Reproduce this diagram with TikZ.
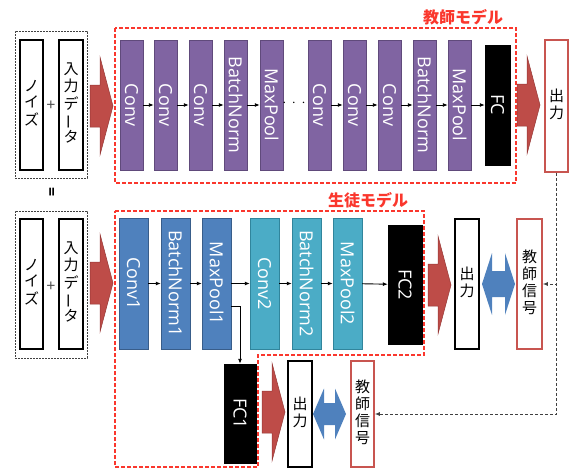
\documentclass[tikz,border=0pt]{standalone}
\usepackage{fontspec}
\setmainfont{Open Sans}
\newfontfamily\jp{Noto Sans CJK JP}
\usetikzlibrary{arrows.meta}

\definecolor{tpurple}{RGB}{128,100,162}
\definecolor{tpurpleD}{RGB}{96,74,123}
\definecolor{sblue}{RGB}{79,129,189}
\definecolor{sblueD}{RGB}{56,93,138}
\definecolor{steal}{RGB}{75,172,198}
\definecolor{stealD}{RGB}{49,133,156}
\definecolor{fatred}{RGB}{190,76,72}
\definecolor{fatredD}{RGB}{150,56,54}
\definecolor{modelred}{RGB}{250,55,45}
\definecolor{outred}{RGB}{200,85,80}

\newcommand{\sidetext}[1]{\rotatebox{-90}{#1}}
\newcommand{\vbar}{\smash{\rotatebox[origin=c]{90}{ー}}}
\newcommand{\vjp}[1]{{\jp\fontsize{15}{16}\selectfont\renewcommand{\arraystretch}{1}\begin{tabular}{@{}c@{}}#1\end{tabular}}}
\newcommand{\fatarrow}[2]{\filldraw[fatfill] (#1,#2) ++(0,-21) -- ++(10,0) -- ++(0,-28) -- ++(13,49) -- ++(-13,49) -- ++(0,-28) -- ++(-10,0) -- cycle;}
\newcommand{\dblarrow}[5]{\fill[dblfill] (#1,#2) -- ++(#5,-#3) -- ++(0,{#3-#4}) -- ++({33-2*#5},0) -- ++(0,{#4-#3}) -- ++(#5,#3) -- ++(-#5,#3) -- ++(0,{#4-#3}) -- ++({2*#5-33},0) -- ++(0,{#3-#4}) -- cycle;}

\begin{document}
\begin{tikzpicture}[x=1pt, y=-1pt,
  tlayer/.style={draw=tpurpleD, fill=tpurple, text=white, inner sep=0pt, minimum width=23pt, minimum height=130pt, font=\fontsize{18}{18}\selectfont},
  slayer/.style={draw=#1D, fill=#1, text=white, inner sep=0pt, minimum width=29pt, minimum height=131pt, font=\fontsize{18}{18}\selectfont},
  fcbox/.style={draw=black, fill=black, text=white, inner sep=0pt, font=\fontsize{18}{18}\selectfont},
  jbox/.style={draw=#1, line width=1.7pt, fill=white, inner sep=0pt},
  inbox/.style={draw=black!75, dash pattern=on 2pt off 1pt, line width=1pt, minimum width=72pt, minimum height=147pt},
  model/.style={draw=modelred, dash pattern=on 4pt off 2pt, line width=1.5pt},
  modellabel/.style={text=modelred, font=\jp\bfseries\fontsize{16}{16}\selectfont},
  link/.style={-{Latex[length=5pt,width=4pt]}, line width=0.9pt},
  dashlink/.style={-{Latex[length=5pt,width=4pt]}, draw=black!75, dash pattern=on 3pt off 2pt, line width=1pt},
  fatfill/.style={fill=fatred, draw=fatredD, line width=0.5pt},
  dblfill/.style={fill=sblue}]
\useasboundingbox (0,0) rectangle (571,469);

% teacher
\node[inbox] (input1) at (51,104.5) {};
\node[jbox=black, minimum width=23pt, minimum height=130pt] (noise1) at (31.5,105) {\vjp{ノ\\イ\\ズ}};
\node[jbox=black, minimum width=24pt, minimum height=130pt] (data1) at (71,105) {\vjp{入\\力\\デ\\\vbar\\タ}};
\node[text=black!70, font=\fontsize{16}{16}\selectfont] (plus1) at (51,106) {+};
\fatarrow{90}{106}
\draw[model] (115,28) rectangle (516,183);
\node[modellabel] (tlabel) at (463,17) {教師モデル};

\node[tlayer] (tc1) at (131.5,105) {\sidetext{Conv}};
\node[tlayer] (tc2) at (165.5,105) {\sidetext{Conv}};
\node[tlayer] (tc3) at (200.5,105) {\sidetext{Conv}};
\node[tlayer] (tbn1) at (235.5,105) {\sidetext{BatchNorm}};
\node[tlayer] (tmp1) at (271.5,105) {\sidetext{MaxPool}};
\node[font=\fontsize{14}{14}\selectfont] (dots) at (294,103) {$\cdot\,\cdot\,\cdot$};
\node[tlayer] (tc4) at (319.5,105) {\sidetext{Conv}};
\node[tlayer] (tc5) at (354.5,105) {\sidetext{Conv}};
\node[tlayer] (tc6) at (389.5,105) {\sidetext{Conv}};
\node[tlayer] (tbn2) at (424.5,105) {\sidetext{BatchNorm}};
\node[tlayer] (tmp2) at (459.5,105) {\sidetext{MaxPool}};
\node[fcbox, minimum width=25pt, minimum height=120pt] (tfc) at (497.5,105) {\sidetext{FC}};

\draw[link] (tc1) -- (tc2);
\draw[link] (tc2) -- (tc3);
\draw[link] (tc3) -- (tbn1);
\draw[link] (tbn1) -- (tmp1);
\draw[link] (tc4) -- (tc5);
\draw[link] (tc5) -- (tc6);
\draw[link] (tc6) -- (tbn2);
\draw[link] (tbn2) -- (tmp2);
\draw[link] (tmp2) -- (tfc);

\fatarrow{517}{105}
\node[jbox=outred, line width=1.5pt, minimum width=23pt, minimum height=132pt] (tout) at (556.5,106) {\vjp{出\\力}};

\node[font=\bfseries\fontsize{16}{16}\selectfont] (eq) at (50,192) {\sidetext{=}};

% student
\node[inbox] (input2) at (51,284.5) {};
\node[jbox=black, minimum width=23pt, minimum height=130pt] (noise2) at (31.5,284) {\vjp{ノ\\イ\\ズ}};
\node[jbox=black, minimum width=24pt, minimum height=130pt] (data2) at (71,284) {\vjp{入\\力\\デ\\\vbar\\タ}};
\node[text=black!70, font=\fontsize{16}{16}\selectfont] (plus2) at (51,287) {+};
\fatarrow{90}{283}
\draw[model] (115,211) -- (424,211) -- (424,355) -- (258,355) -- (258,467) -- (115,467) -- cycle;
\node[modellabel] (slabel) at (368,200) {生徒モデル};

\node[slayer=sblue] (sc1) at (133.5,283.5) {\sidetext{Conv1}};
\node[slayer=sblue] (sbn1) at (175.5,283.5) {\sidetext{BatchNorm1}};
\node[slayer=sblue] (smp1) at (216.5,283.5) {\sidetext{MaxPool1}};
\node[slayer=steal] (sc2) at (264.5,283.5) {\sidetext{Conv2}};
\node[slayer=steal] (sbn2) at (306.5,283.5) {\sidetext{BatchNorm2}};
\node[slayer=steal] (smp2) at (347.5,283.5) {\sidetext{MaxPool2}};
\node[fcbox, minimum width=34pt, minimum height=119pt] (sfc2) at (405,284.5) {\sidetext{FC2}};
\node[fcbox, minimum width=32pt, minimum height=99pt] (sfc1) at (240,413.5) {\sidetext{FC1}};

\draw[link] (sc1) -- (sbn1);
\draw[link] (sbn1) -- (smp1);
\draw[link] (smp1) -- (sc2);
\draw[link] (sc2) -- (sbn2);
\draw[link] (sbn2) -- (smp2);
\draw[link] (smp2) -- (sfc2);
\draw[link] ([yshift=-23pt]smp1.east) -| (sfc1.north);

\fatarrow{428}{285}
\node[jbox=black, line width=1.5pt, minimum width=24pt, minimum height=130pt] (sout) at (467,284) {\vjp{出\\力}};
\dblarrow{482}{284}{31}{13}{10}
\node[jbox=outred, line width=1.5pt, minimum width=25pt, minimum height=130pt] (ssig) at (529.5,284) {\vjp{教\\師\\信\\号}};

\fatarrow{262}{412}
\node[jbox=black, line width=1.5pt, minimum width=24pt, minimum height=106pt] (bout) at (300,414) {\vjp{出\\力}};
\dblarrow{313}{414}{25.5}{11}{11}
\node[jbox=outred, line width=1.5pt, minimum width=23pt, minimum height=106pt] (bsig) at (362.5,414) {\vjp{教\\師\\信\\号}};

\draw[dashlink] (tout.south) |- (ssig.east);
\draw[dashlink] (tout.south) |- (bsig.east);
\end{tikzpicture}
\end{document}
